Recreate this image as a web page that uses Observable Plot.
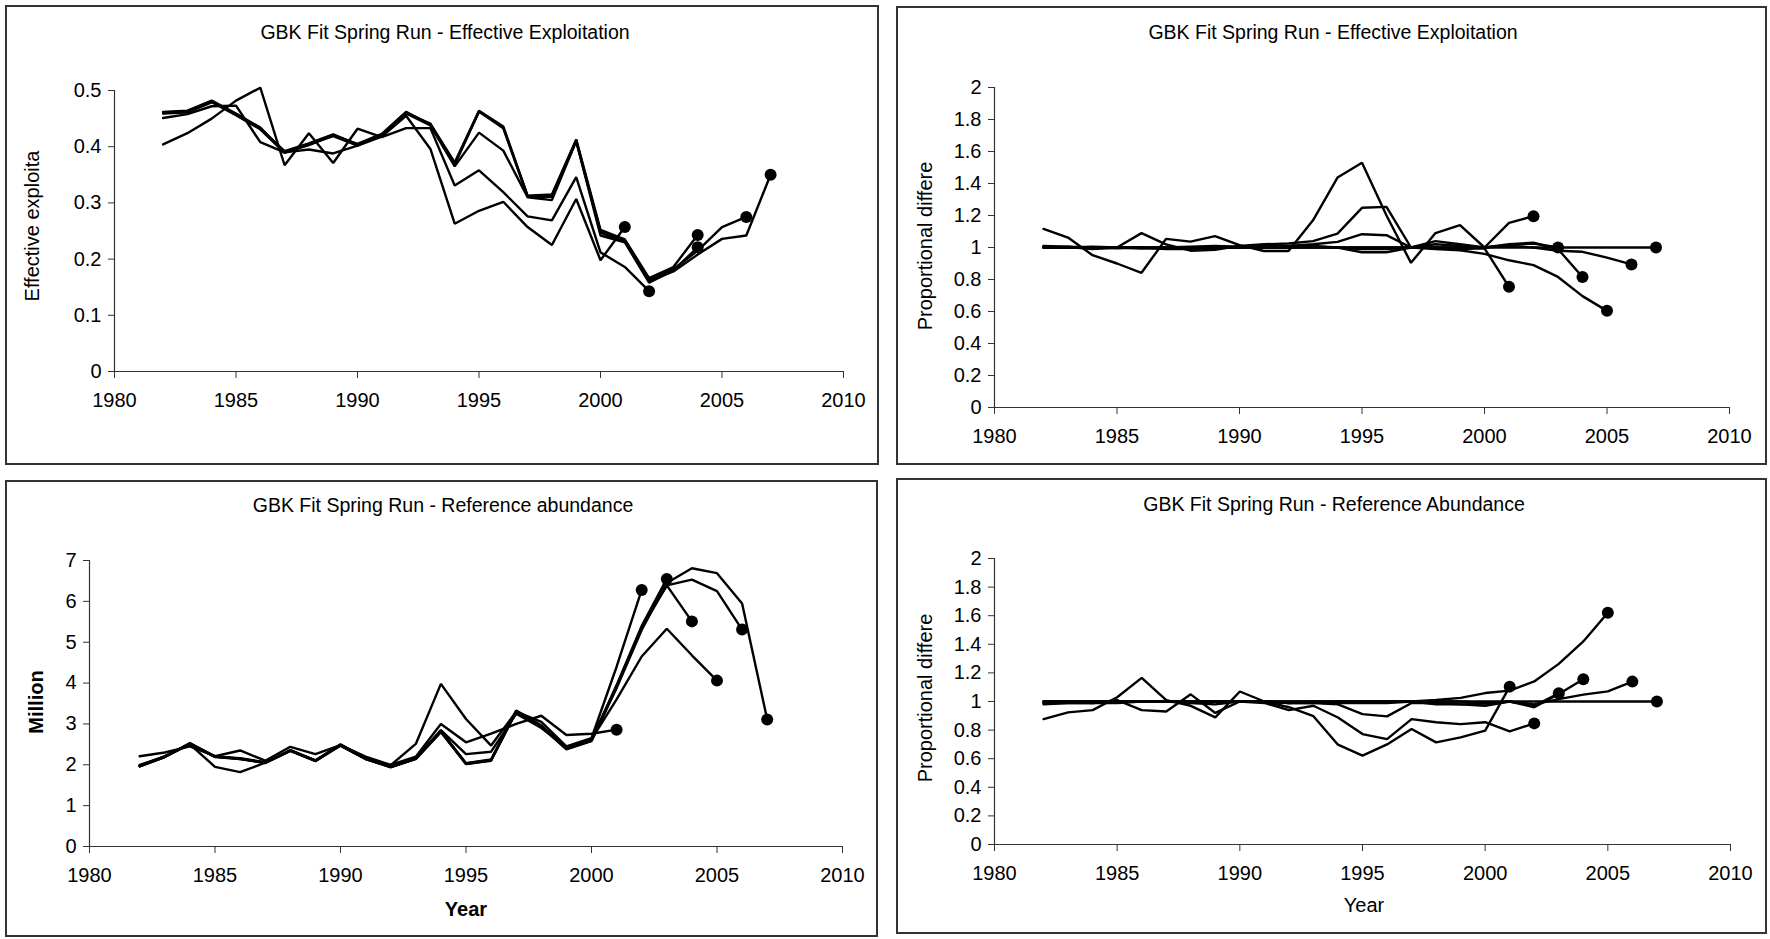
<!DOCTYPE html>
<html>
<head>
<meta charset="utf-8">
<script src="https://cdn.jsdelivr.net/npm/d3@7"></script>
<script src="https://cdn.jsdelivr.net/npm/@observablehq/plot@0.6"></script>
<style>
html, body { margin: 0; padding: 0; background: #fff; }
#root { position: relative; width: 1770px; height: 939px; overflow: hidden; font-family: "Liberation Sans", Arial, sans-serif; color: #000; background: #fff; }
.panel { position: absolute; box-sizing: border-box; border: 2px solid #333; pointer-events: none; }
.plot { position: absolute; }
.txt { position: absolute; white-space: nowrap; }
</style>
</head>
<body>
<div id="root"></div>
<script>
// ---------- data ----------
const years = [1982,1983,1984,1985,1986,1987,1988,1989,1990,1991,1992,1993,1994,1995,1996,1997,1998,1999,2000,2001,2002,2003,2004,2005,2006,2007];
const xTicks = [1980, 1985, 1990, 1995, 2000, 2005, 2010];

// Panel 1: effective exploitation (retrospective peels)
const exploit2001 = [0.451,0.458,0.472,0.473,0.408,0.390,0.395,0.388,0.402,0.418,0.455,0.396,0.263,0.286,0.302,0.257,0.225,0.307,0.198,0.257];
const exploit2002 = [0.404,0.424,0.450,0.482,0.505,0.367,0.424,0.371,0.432,0.417,0.433,0.433,0.331,0.358,0.319,0.276,0.269,0.346,0.212,0.186,0.143];
const exploit2004a = [0.461,0.463,0.481,0.457,0.433,0.391,0.405,0.421,0.403,0.422,0.461,0.440,0.372,0.464,0.436,0.313,0.315,0.413,0.252,0.235,0.166,0.186,0.243];
const exploit2004b = [0.459,0.461,0.479,0.456,0.431,0.389,0.404,0.419,0.402,0.421,0.459,0.438,0.365,0.425,0.393,0.310,0.305,0.410,0.242,0.230,0.158,0.180,0.221];
const exploit2006 = [0.460,0.462,0.480,0.458,0.432,0.392,0.406,0.422,0.404,0.420,0.460,0.441,0.370,0.462,0.434,0.312,0.313,0.410,0.249,0.232,0.163,0.182,0.215,0.257,0.275];
const exploit2007 = [0.462,0.464,0.482,0.459,0.434,0.390,0.403,0.420,0.405,0.423,0.462,0.439,0.368,0.463,0.433,0.311,0.311,0.411,0.247,0.231,0.161,0.178,0.208,0.236,0.242,0.350];
const exploitTicks = [0, 0.1, 0.2, 0.3, 0.4, 0.5];

// Panel 2: proportional difference, exploitation
const propExp2001 = [1.01,1.005,0.99,1.0,1.09,1.02,0.98,0.985,1.01,1.02,1.025,1.04,1.087,1.248,1.254,1.0,1.0,0.99,0.995,0.754];
const propExp2002 = [1.116,1.062,0.952,0.90,0.842,1.054,1.037,1.071,1.015,0.978,0.978,1.17,1.437,1.53,1.2,0.904,1.09,1.14,1.0,1.154,1.196];
const propExp2003 = [1.0,1.0,1.005,1.0,0.995,1.0,1.005,1.01,1.005,1.01,1.01,1.02,1.035,1.083,1.077,1.0,1.02,1.01,1.0,1.015,1.025,1.0];
const propExp2004 = [1.005,1.0,1.0,0.995,1.0,1.0,0.995,1.0,1.0,1.005,1.005,1.01,1.0,0.99,0.99,1.0,1.04,1.02,1.0,1.02,1.03,0.99,0.816];
const propExp2005 = [1.0,1.005,1.0,1.0,0.995,0.995,1.0,1.0,1.005,1.0,1.0,1.005,1.0,1.0,1.0,1.0,0.99,0.983,0.96,0.92,0.89,0.816,0.696,0.604];
const propExp2006 = [1.0,1.0,0.995,1.0,1.0,0.99,0.99,1.0,1.0,1.0,1.0,1.0,1.0,0.97,0.97,1.0,1.0,1.0,1.0,1.01,1.0,0.98,0.973,0.937,0.894];
const propExp2007 = [1,1,1,1,1,1,1,1,1,1,1,1,1,1,1,1,1,1,1,1,1,1,1,1,1,1];
const propTicks = [0, 0.2, 0.4, 0.6, 0.8, 1, 1.2, 1.4, 1.6, 1.8, 2];

// Panel 3: reference abundance (million)
const abund2001 = [2.21,2.3,2.45,2.21,2.35,2.1,2.44,2.26,2.48,2.2,2.0,2.2,3.0,2.55,2.76,3.0,3.2,2.73,2.76,2.86];
const abund2002 = [2.0,2.2,2.5,1.95,1.82,2.05,2.35,2.1,2.5,2.15,1.99,2.51,3.98,3.12,2.47,3.3,3.05,2.45,2.65,4.4,6.28];
const abund2003 = [1.97,2.2,2.52,2.2,2.15,2.05,2.35,2.1,2.48,2.15,1.95,2.15,2.82,2.03,2.12,3.32,2.95,2.4,2.6,3.95,5.4,6.55];
const abund2004 = [1.96,2.19,2.51,2.19,2.14,2.04,2.34,2.09,2.47,2.14,1.94,2.14,2.8,2.02,2.1,3.3,2.93,2.38,2.58,3.9,5.37,6.39,5.51];
const abund2005 = [1.98,2.21,2.5,2.2,2.16,2.06,2.36,2.11,2.49,2.16,1.96,2.17,2.85,2.26,2.32,3.25,2.9,2.43,2.62,3.6,4.65,5.33,4.68,4.06];
const abund2006 = [1.97,2.2,2.52,2.21,2.15,2.05,2.35,2.1,2.48,2.15,1.95,2.15,2.83,2.04,2.13,3.33,2.96,2.41,2.61,3.92,5.35,6.39,6.53,6.25,5.31];
const abund2007 = [1.96,2.19,2.53,2.2,2.14,2.06,2.34,2.1,2.47,2.14,1.95,2.16,2.81,2.02,2.11,3.31,2.94,2.39,2.59,3.88,5.3,6.45,6.81,6.69,5.95,3.11];
const abundTicks = [0, 1, 2, 3, 4, 5, 6, 7];

// Panel 4: proportional difference, reference abundance
const propAb2001 = [0.877,0.924,0.94,1.03,1.165,1.01,0.97,0.889,1.07,1.0,0.96,0.897,0.698,0.621,0.70,0.808,0.714,0.749,0.796,1.104];
const propAb2002 = [0.98,0.99,0.99,1.01,0.94,0.93,1.05,0.92,1.0,0.99,0.94,0.97,0.888,0.772,0.737,0.877,0.855,0.842,0.855,0.791,0.847];
const propAb2003 = [1.0,1.0,0.99,0.99,1.0,1.0,1.0,1.0,1.0,1.0,0.99,1.0,0.99,0.99,0.99,1.0,0.98,0.98,0.985,1.0,0.97,1.057];
const propAb2004 = [0.99,0.99,0.99,1.0,1.0,1.0,0.99,0.98,1.0,1.0,0.99,0.99,0.98,0.912,0.896,0.99,0.99,0.98,0.97,1.0,0.96,1.052,1.155];
const propAb2005 = [0.99,1.0,1.0,1.0,1.0,1.0,1.0,1.0,1.0,1.0,1.0,1.0,1.0,1.0,1.0,1.0,1.01,1.025,1.059,1.076,1.14,1.263,1.42,1.62];
const propAb2006 = [1.0,1.0,1.0,1.0,1.0,1.0,1.0,1.0,1.0,1.0,0.99,0.99,1.0,1.0,1.0,1.0,1.0,1.0,0.99,1.0,0.98,1.017,1.048,1.071,1.139];
const propAb2007 = [1,1,1,1,1,1,1,1,1,1,1,1,1,1,1,1,1,1,1,1,1,1,1,1,1,1];

// ---------- build ----------
const root = document.getElementById("root");
const FONT = '"Liberation Sans", Arial, sans-serif';

function toRows(peels) {
  return peels.flatMap(([name, vals]) => vals.map((v, i) => ({peel: name, year: years[i], value: v})));
}
function toEnds(peels) {
  return peels.map(([name, vals]) => ({peel: name, year: years[vals.length - 1], value: vals[vals.length - 1]}));
}

function panel(cfg) {
  const border = document.createElement("div");
  border.className = "panel";
  Object.assign(border.style, {left: cfg.left + "px", top: cfg.top + "px", width: cfg.w + "px", height: cfg.h + "px"});
  const rows = toRows(cfg.peels);
  const ends = toEnds(cfg.peels);
  const chart = Plot.plot({
    width: cfg.w, height: cfg.h,
    marginLeft: cfg.ml, marginRight: cfg.mr, marginTop: cfg.mt, marginBottom: cfg.mb,
    style: {fontFamily: FONT, fontSize: "20px", color: "#000", background: "none", overflow: "visible"},
    x: {domain: [1980, 2010], label: null},
    y: {domain: [cfg.yTicks[0], cfg.yTicks[cfg.yTicks.length - 1]], label: null},
    marks: [
      Plot.ruleY([cfg.yTicks[0]], {stroke: "#333", strokeWidth: 1.2}),
      Plot.ruleX([1980], {stroke: "#333", strokeWidth: 1.2}),
      Plot.axisX({ticks: xTicks, tickFormat: d => String(d), tickSize: 7, tickPadding: 14, stroke: "#333", fill: "#000", label: null}),
      Plot.axisY({ticks: cfg.yTicks, tickFormat: d => String(d), tickSize: 6, tickPadding: 7, stroke: "#333", fill: "#000", label: null}),
      Plot.line(rows, {x: "year", y: "value", z: "peel", stroke: "#000", strokeWidth: 2.4, strokeLinejoin: "miter", curve: "linear"}),
      Plot.dot(ends, {x: "year", y: "value", r: 6, fill: "#000", stroke: "none"})
    ]
  });
  chart.classList.add("plot");
  chart.style.left = cfg.left + "px";
  chart.style.top = cfg.top + "px";
  chart.style.maxWidth = "none";
  root.appendChild(chart);
  root.appendChild(border);
}

function text(str, o) {
  const size = o.size || 20;
  const d = document.createElement("div");
  d.className = "txt";
  d.textContent = str;
  const L = 1.2;
  const base = ((L - 1.117) / 2 + 0.905) * size;
  Object.assign(d.style, {fontSize: size + "px", lineHeight: L, fontWeight: o.weight || "normal", fontFamily: FONT});
  if (!o.rotate) {
    d.style.left = o.x + "px";
    d.style.top = (o.y - base) + "px";
    d.style.transform = "translateX(-50%)";
  } else {
    d.style.left = (o.x - base) + "px";
    d.style.transformOrigin = "0 0";
    d.style.top = o.y + "px";
    d.style.transform = "rotate(-90deg) translateX(-50%)";
  }
  root.appendChild(d);
}

panel({left: 5, top: 5, w: 874, h: 460, ml: 109, mr: 36, mt: 85, mb: 94, yTicks: exploitTicks,
  peels: [["2001", exploit2001], ["2002", exploit2002], ["2004a", exploit2004a], ["2004b", exploit2004b], ["2006", exploit2006], ["2007", exploit2007]]});
panel({left: 896, top: 6, w: 871, h: 459, ml: 98, mr: 38, mt: 81, mb: 58, yTicks: propTicks,
  peels: [["2001", propExp2001], ["2002", propExp2002], ["2003", propExp2003], ["2004", propExp2004], ["2005", propExp2005], ["2006", propExp2006], ["2007", propExp2007]]});
panel({left: 5, top: 480, w: 873, h: 457, ml: 84, mr: 36, mt: 80, mb: 91, yTicks: abundTicks,
  peels: [["2001", abund2001], ["2002", abund2002], ["2003", abund2003], ["2004", abund2004], ["2005", abund2005], ["2006", abund2006], ["2007", abund2007]]});
panel({left: 896, top: 478, w: 871, h: 456, ml: 98, mr: 37, mt: 80, mb: 90, yTicks: propTicks,
  peels: [["2001", propAb2001], ["2002", propAb2002], ["2003", propAb2003], ["2004", propAb2004], ["2005", propAb2005], ["2006", propAb2006], ["2007", propAb2007]]});

text("GBK Fit Spring Run - Effective Exploitation", {x: 445, y: 39, size: 19.5});
text("GBK Fit Spring Run - Effective Exploitation", {x: 1333, y: 39, size: 19.5});
text("GBK Fit Spring Run - Reference abundance", {x: 443, y: 512, size: 19.5});
text("GBK Fit Spring Run - Reference Abundance", {x: 1334, y: 511, size: 19.5});

text("Effective exploita", {rotate: true, x: 38.5, y: 226});
text("Proportional differe", {rotate: true, x: 932, y: 246});
text("Million", {rotate: true, x: 42.8, y: 702, weight: "bold"});
text("Proportional differe", {rotate: true, x: 932, y: 698});

text("Year", {x: 466, y: 916, weight: "bold"});
text("Year", {x: 1364, y: 912});
</script>
</body>
</html>
